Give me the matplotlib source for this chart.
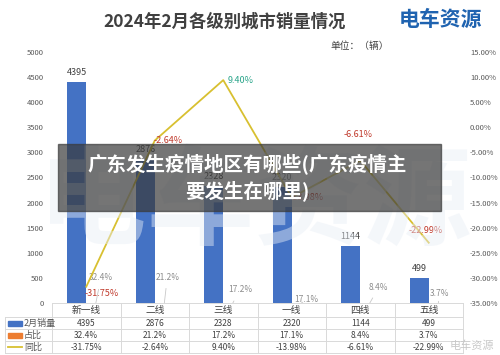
import matplotlib
matplotlib.use("Agg")
import numpy as np
import matplotlib.pyplot as plt
from matplotlib.patches import Rectangle
from matplotlib.lines import Line2D

plt.rcParams['font.family'] = ['Noto Sans CJK SC', 'DejaVu Sans']

categories = ['新一线', '二线', '三线', '一线', '四线', '五线']
sales = [4395, 2876, 2328, 2320, 1144, 499]
share = [32.4, 21.2, 17.2, 17.1, 8.4, 3.7]
yoy = [-31.75, -2.64, 9.40, -13.98, -6.61, -22.99]
row_names = ['2月销量', '占比', '同比']

W, H = 500, 355
fig = plt.figure(figsize=(W / 100, H / 100), dpi=100)
fig.patch.set_facecolor('white')


def fx(px):
    return px / W


def fy(py):
    return 1 - py / H


# plot area in pixels
L, R, T, B = 52, 463, 52, 303
ax = fig.add_axes([fx(L), fy(B), fx(R - L), (B - T) / H])
ax.set_facecolor('none')
x = np.arange(len(categories))
bw = 0.28
ax.bar(x - bw / 2, sales, width=bw, color='#4472c4', zorder=3)
ax.bar(x + bw / 2, [s / 100 for s in share], width=bw, color='#ed7d31', zorder=3)
ax.set_xlim(-0.5, len(categories) - 0.5)
ax.set_ylim(0, 5000)
ax.set_yticks(np.arange(0, 5001, 500))
ax.tick_params(axis='y', labelsize=5.5, colors='#595959', length=0, pad=6)
ax.set_xticks([])
for s in ax.spines.values():
    s.set_visible(False)

for xi, v in zip(x, sales):
    ax.annotate(str(v), (xi - bw / 2, v), xytext=(0, 5), textcoords='offset pixels',
                ha='center', va='bottom', fontsize=6.5, color='#404040', zorder=5)

share_off = [(5, 25), (3, 26), (7, 13), (5, 3), (9, 16), (1, 9)]
for xi, v, (dx, dy) in zip(x, share, share_off):
    ax.annotate('%.1f%%' % v, (xi + bw / 2, 0), xytext=(dx, dy), textcoords='offset pixels',
                ha='center', va='center', fontsize=6, color='#8c8c8c', zorder=5,
                arrowprops=dict(arrowstyle='-', color='#c8c8c8', lw=0.6, shrinkA=3, shrinkB=0))

ax2 = ax.twinx()
ax2.plot(x, yoy, color='#d8c030', lw=1.3, zorder=4)
ax2.set_ylim(-35, 15)
ax2.set_yticks(np.arange(-35, 16, 5))
ax2.set_yticklabels(['%.2f%%' % t for t in np.arange(-35, 16, 5)])
ax2.tick_params(axis='y', labelsize=5.5, colors='#595959', length=0, pad=5)
for s in ax2.spines.values():
    s.set_visible(False)

yoy_off = [(15, -7), (13, 0), (17, 0), (15, 0), (-2, 26), (-3, 12)]
for xi, v, (dx, dy) in zip(x, yoy, yoy_off):
    c = '#2aa58a' if v > 0 else '#c0392b'
    ax2.annotate('%.2f%%' % v, (xi, v), xytext=(dx, dy), textcoords='offset pixels',
                 ha='center', va='center', fontsize=6.5, color=c, zorder=6)

# watermark
fig.text(fx(255), fy(205), '电车资源', fontsize=78, color='#e8eef6', ha='center', va='center',
         fontweight='bold', zorder=0, alpha=0.45)

# title and labels
fig.text(fx(225), fy(22), '2024年2月各级别城市销量情况', fontsize=12.5, fontweight='bold',
         color='#404040', ha='center', va='center')
fig.text(fx(440), fy(19), '电车资源', fontsize=15, fontweight='bold', color='#1f63b0',
         ha='center', va='center')
fig.text(fx(360), fy(46), '单位：（辆）', fontsize=7, color='#404040', ha='center', va='center')

# data table
cols = [L + (R - L) * i / len(categories) for i in range(len(categories) + 1)]
rows = [303, 317, 329, 341, 353]
lc = '#d9d9d9'
for yy in rows[1:]:
    fig.add_artist(Line2D([fx(5), fx(R)], [fy(yy), fy(yy)], color=lc, lw=0.7))
fig.add_artist(Line2D([fx(L), fx(R)], [fy(rows[0]), fy(rows[0])], color=lc, lw=0.7))
for cx in cols:
    fig.add_artist(Line2D([fx(cx), fx(cx)], [fy(rows[0]), fy(rows[-1])], color=lc, lw=0.7))
fig.add_artist(Line2D([fx(5), fx(5)], [fy(rows[1]), fy(rows[-1])], color=lc, lw=0.7))

for i, c in enumerate(categories):
    cx = (cols[i] + cols[i + 1]) / 2
    ymid = (rows[0] + rows[1]) / 2
    fig.text(fx(cx), fy(ymid), c, fontsize=7, color='#404040', ha='center', va='center')
    vals = [str(sales[i]), '%.1f%%' % share[i], '%.2f%%' % yoy[i]]
    for j, v in enumerate(vals):
        ym = (rows[j + 1] + rows[j + 2]) / 2
        fig.text(fx(cx), fy(ym), v, fontsize=6, color='#404040', ha='center', va='center')

for j, name in enumerate(row_names):
    ym = (rows[j + 1] + rows[j + 2]) / 2
    if j < 2:
        fig.add_artist(Rectangle((fx(8), fy(ym + 2.5)), fx(14), 5 / H,
                                 color=['#4472c4', '#ed7d31'][j]))
    else:
        fig.add_artist(Line2D([fx(8), fx(22)], [fy(ym), fy(ym)], color='#d8c030', lw=1.3))
    fig.text(fx(24), fy(ym), name, fontsize=6.5, color='#595959', ha='left', va='center')

fig.text(fx(472), fy(346), '电车资源', fontsize=8, color='#c8c8c8', ha='center', va='center')

# overlay banner
fig.add_artist(Rectangle((fx(58), fy(211)), fx(441 - 58), (211 - 144) / H,
                         color='#3a3a3a', alpha=0.7, zorder=10))
fig.text(fx(247), fy(177), '广东发生疫情地区有哪些(广东疫情主\n要发生在哪里)', fontsize=14,
         fontweight='bold', color='white', ha='center', va='center', zorder=11,
         linespacing=1.35)

fig.savefig('out.png', dpi=100)
